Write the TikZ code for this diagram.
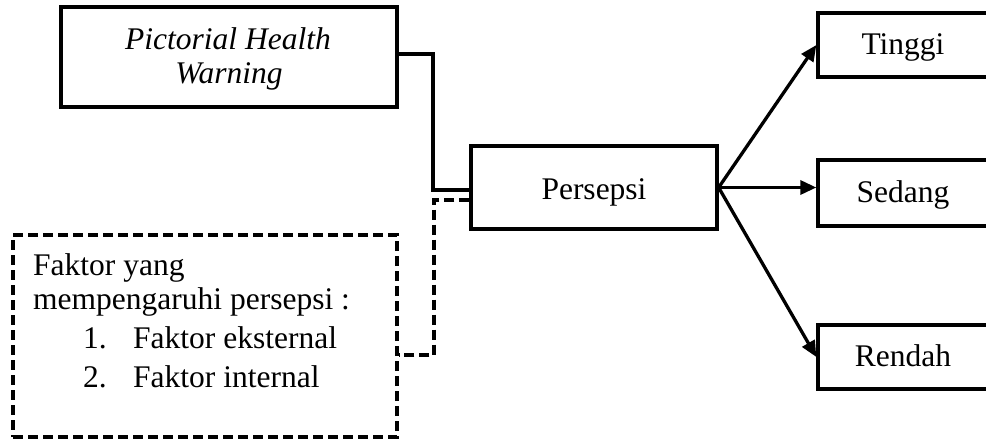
\documentclass[tikz,border=0pt]{standalone}
\usepackage{fontspec}
\setmainfont{Liberation Serif}
\usetikzlibrary{arrows.meta}
\begin{document}
\begin{tikzpicture}[x=1pt,y=-1pt,
  box/.style={draw, line width=3.3pt, rectangle, inner sep=0pt},
  dbox/.style={draw, line width=3.3pt, rectangle, inner sep=0pt, dash pattern=on 10pt off 5pt},
  conn/.style={line width=3.3pt},
  dconn/.style={line width=3.3pt, dash pattern=on 10pt off 5pt},
  arr/.style={line width=3.3pt, -{Triangle[length=16pt,width=14pt]}},
  txt/.style={inner sep=0pt, font=\fontsize{31.5}{36}\selectfont},
  btxt/.style={txt, text height=22pt, text depth=4pt}]
\clip (0,0) rectangle (986,439);
% boxes
\node[box, minimum width=336pt, minimum height=100pt] (phw) at (229,57) {};
\node[txt, anchor=base, font=\fontsize{31.5}{36}\selectfont\itshape] (phw1) at (228,49) {Pictorial Health};
\node[txt, anchor=base, font=\fontsize{31.5}{36}\selectfont\itshape] (phw2) at (229,83) {Warning};
\node[box, minimum width=246pt, minimum height=83pt, btxt] (pers) at (594,187.5) {\raisebox{-2.5pt}{Persepsi}};
\node[box, minimum width=180pt, minimum height=64pt, btxt] (ting) at (908,45) {\hspace*{-10pt}Tinggi};
\node[box, minimum width=180pt, minimum height=66pt, btxt] (sed) at (908,193) {\hspace*{-10pt}Sedang};
\node[box, minimum width=180pt, minimum height=64pt, btxt] (ren) at (908,357) {\hspace*{-10pt}Rendah};
\node[dbox, minimum width=384pt, minimum height=202pt] (fak) at (205,336) {};
% texts in faktor box
\node[txt, anchor=base west] (f1) at (33,275) {Faktor yang};
\node[txt, anchor=base west] (f2) at (33,309) {mempengaruhi persepsi :};
\node[txt, anchor=base west] (f3n) at (83,348) {1.};
\node[txt, anchor=base west] (f3) at (133,348) {Faktor eksternal};
\node[txt, anchor=base west] (f4n) at (83,387) {2.};
\node[txt, anchor=base west] (f4) at (133,387) {Faktor internal};
% connectors
\coordinate (j1) at (433,190);
\draw[conn] (phw.east |- 0,54) -| (j1) -- (pers.west |- j1);
\coordinate (d1) at (434,200);
\coordinate (d2) at (434,355);
\draw[dconn] (pers.west |- d1) -- (d1) -- (d2) -- (fak.east |- d2);
\draw[arr] (pers.east) -- (ting.west);
\draw[arr] (pers.east) -- (sed.west |- pers.east);
\draw[arr] (pers.east) -- (ren.west);
\end{tikzpicture}
\end{document}
